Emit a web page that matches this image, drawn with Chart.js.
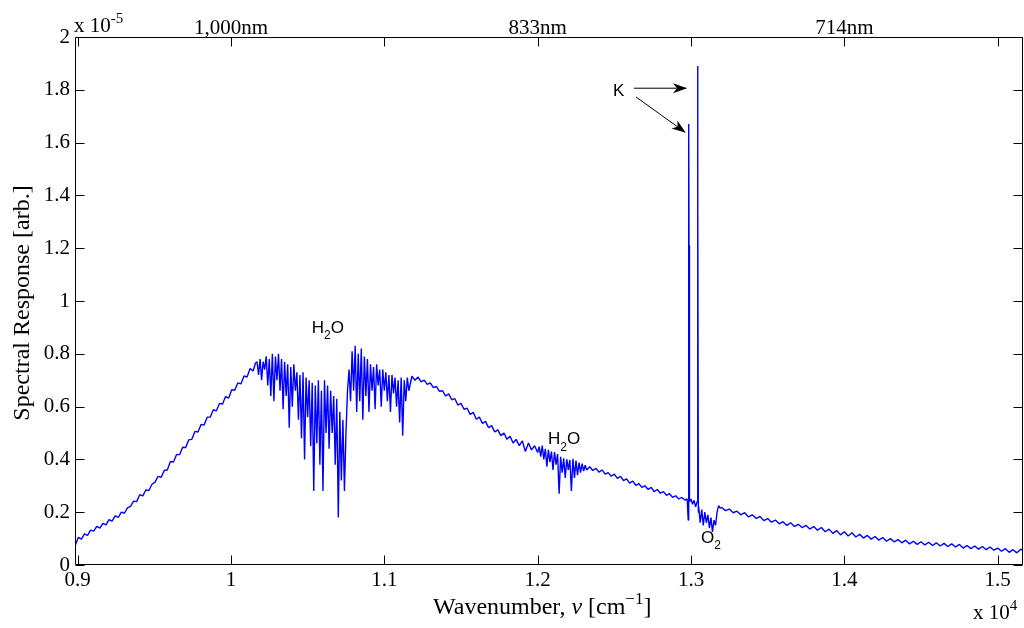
<!DOCTYPE html>
<html>
<head>
<meta charset="utf-8">
<script src="https://cdn.jsdelivr.net/npm/chart.js@4/dist/chart.umd.min.js"></script>
<style>
html,body{margin:0;padding:0;background:#fff;}
#wrap{width:1024px;height:628px;}
</style>
</head>
<body>
<div id="wrap"><canvas id="c" width="1024" height="628"></canvas></div>
<script>
// ---------------- DATA (values in units of 1e-5) ----------------
const wavenumber = [
 8985,9005,9025,9045,9065,9085,9105,9125,9145,9165,9185,9205,9225,9245,9265,9285,9305,9325,9345,9365,
 9385,9405,9425,9445,9465,9485,9505,9525,9545,9565,9585,9605,9625,9645,9665,9685,9705,9725,9745,9765,
 9785,9805,9825,9845,9865,9885,9905,9925,9945,9965,9985,10005,10025,10045,10065,10085,10105,10125,10145,10160,
 10170,10180,10190,10200,10210,10220,10230,10240,10250,10260,10270,10280,10290,10300,10310,10320,10330,10340,10350,10360,
 10370,10380,10390,10400,10410,10420,10430,10440,10450,10460,10470,10480,10490,10500,10510,10520,10530,10540,10550,10560,
 10570,10580,10590,10600,10610,10620,10630,10640,10650,10660,10670,10680,10690,10700,10710,10720,10730,10740,10750,10760,
 10770,10780,10790,10800,10810,10820,10830,10840,10850,10860,10870,10880,10890,10900,10910,10920,10930,10940,10950,10960,
 10970,10980,10990,11000,11010,11020,11030,11040,11050,11060,11070,11080,11090,11100,11110,11120,11130,11140,11150,11160,
 11180,11200,11220,11240,11260,11280,11300,11320,11340,11360,11380,11400,11420,11440,11460,11480,11500,11520,11540,11560,
 11580,11600,11620,11640,11660,11680,11700,11720,11740,11760,11780,11800,11820,11840,11860,11880,11900,11920,11940,11960,
 11980,12000,
 12010,12020,12030,12040,12050,12060,12070,12080,12090,12100,12110,12120,12130,12140,12150,12160,12170,12180,12190,12200,
 12210,12220,12230,12240,12250,12260,12270,12280,12290,12300,12310,12320,
 12340,12360,12380,12400,12420,12440,12460,12480,12500,12520,12540,12560,12580,12600,12620,12640,12660,12680,12700,12720,
 12740,12760,12780,12800,12820,12840,12860,12880,12900,12920,12940,12960,
 12975,12982,12985,12987,12990,13000,13010,13020,13030,13040,13043,13045,13048,
 13050,13060,13070,13080,13090,13100,13110,13120,13130,13140,13150,13160,13170,13180,13190,
 13200,13225,13250,13275,13300,13325,13350,13375,13400,13425,13450,13475,13500,13525,13550,13575,13600,13625,13650,13675,
 13700,13725,13750,13775,13800,13825,13850,13875,13900,13925,13950,13975,14000,14025,14050,14075,14100,14125,14150,14175,
 14200,14225,14250,14275,14300,14325,14350,14375,14400,14425,14450,14475,14500,14525,14550,14575,14600,14625,14650,14675,
 14700,14725,14750,14775,14800,14825,14850,14875,14900,14925,14950,14975,15000,15025,15050,15075,15100,15125,15150,15165
];
const responseE5 = [
 0.075,0.105,0.098,0.118,0.112,0.132,0.128,0.146,0.140,0.158,0.152,0.172,0.166,0.186,0.180,0.200,0.196,0.216,0.222,0.242,
 0.240,0.266,0.262,0.284,0.282,0.306,0.314,0.336,0.332,0.358,0.360,0.392,0.390,0.418,0.418,0.446,0.445,0.474,0.476,0.506,
 0.504,0.532,0.530,0.560,0.560,0.588,0.584,0.612,0.610,0.638,0.632,0.664,0.662,0.690,0.686,0.716,0.712,0.744,0.735,0.765,
 0.77,0.72,0.78,0.70,0.77,0.74,0.79,0.68,0.78,0.64,0.80,0.62,0.79,0.70,0.80,0.66,0.78,0.59,0.77,0.64,
 0.76,0.52,0.75,0.60,0.76,0.66,0.73,0.55,0.72,0.48,0.73,0.40,0.71,0.56,0.70,0.45,0.69,0.28,0.68,0.46,
 0.70,0.38,0.66,0.28,0.70,0.50,0.68,0.44,0.66,0.50,0.64,0.38,0.63,0.18,0.58,0.32,0.55,0.28,0.50,0.66,
 0.74,0.62,0.81,0.66,0.83,0.58,0.80,0.62,0.82,0.55,0.79,0.64,0.78,0.58,0.76,0.66,0.75,0.59,0.76,0.68,
 0.74,0.60,0.74,0.66,0.73,0.62,0.72,0.58,0.72,0.65,0.71,0.60,0.70,0.54,0.71,0.49,0.70,0.62,0.71,0.66,
 0.715,0.700,0.712,0.694,0.700,0.684,0.690,0.672,0.676,0.658,0.660,0.640,0.648,0.626,0.630,0.606,0.612,0.590,0.594,0.570,
 0.578,0.552,0.560,0.536,0.544,0.520,0.528,0.504,0.512,0.490,0.500,0.476,0.488,0.462,0.476,0.452,0.470,0.430,0.462,0.436,
 0.452,0.426,
 0.448,0.410,0.452,0.400,0.440,0.372,0.436,0.390,0.430,0.360,0.428,0.380,0.420,0.270,0.410,0.350,0.404,0.330,0.400,0.360,
 0.398,0.280,0.402,0.330,0.396,0.340,0.388,0.350,0.384,0.356,0.378,0.360,
 0.372,0.358,0.366,0.352,0.360,0.344,0.350,0.336,0.344,0.328,0.336,0.320,0.326,0.310,0.318,0.302,0.308,0.294,0.300,0.286,
 0.294,0.278,0.286,0.272,0.278,0.264,0.270,0.256,0.262,0.250,0.256,0.246,
 0.250,0.170,1.670,1.210,0.240,0.250,0.230,0.245,0.220,0.240,1.890,1.450,0.200,
 0.220,0.160,0.210,0.150,0.200,0.160,0.190,0.140,0.180,0.125,0.170,0.150,0.200,0.225,0.215,
 0.218,0.206,0.212,0.198,0.204,0.190,0.198,0.182,0.190,0.176,0.184,0.168,0.176,0.162,0.170,0.156,0.164,0.150,0.160,0.146,
 0.154,0.142,0.150,0.136,0.146,0.132,0.142,0.126,0.136,0.120,0.130,0.114,0.126,0.110,0.122,0.106,0.116,0.102,0.112,0.098,
 0.108,0.094,0.104,0.090,0.100,0.088,0.096,0.084,0.094,0.080,0.090,0.078,0.088,0.076,0.086,0.074,0.084,0.072,0.082,0.070,
 0.080,0.068,0.078,0.064,0.074,0.062,0.072,0.060,0.070,0.058,0.068,0.056,0.064,0.052,0.062,0.048,0.058,0.046,0.060,0.054
];
const xTickValues = [9000,10000,11000,12000,13000,14000,15000];
const xTickLabels = ['0.9','1','1.1','1.2','1.3','1.4','1.5'];
const topTickLabels = ['','1,000nm','','833nm','','714nm',''];
const yTickValues = [0,0.2,0.4,0.6,0.8,1,1.2,1.4,1.6,1.8,2];
const yTickLabels = ['0','0.2','0.4','0.6','0.8','1','1.2','1.4','1.6','1.8','2'];
const xRange = [8983, 15165];
const yRange = [0, 2];

// annotation texts (anchored in data coordinates)
const labels = [
  {parts:[['H'],['2','sub'],['O']], x:10527, y:0.879},
  {parts:[['H'],['2','sub'],['O']], x:12068, y:0.458},
  {parts:[['O'],['2','sub']], x:13065, y:0.085},
  {parts:[['K']], x:12491, y:1.777}
];
const arrows = [
  {from:[12628,1.806], to:[12974,1.806]},
  {from:[12641,1.773], to:[12966,1.6375]}
];

// ---------------- RENDERING ----------------
const SERIF = '"Liberation Serif", "Times New Roman", serif';
const SANS = '"Liberation Sans", Arial, Helvetica, sans-serif';

function drawRich(ctx, parts, x, y, size, family) {
  let cx = x;
  for (const p of parts) {
    const t = p[0], mode = p[1] || '', italic = mode.includes('it');
    let fs = size, dy = 0;
    if (mode.includes('sub')) { fs = Math.round(size * 0.72); dy = size * 0.38; }
    if (mode.includes('sup')) { fs = Math.round(size * 0.72); dy = -size * 0.42; }
    ctx.font = (italic ? 'italic ' : '') + fs + 'px ' + family;
    ctx.fillText(t, cx, y + dy);
    cx += ctx.measureText(t).width;
  }
  return cx - x;
}
function measureRich(ctx, parts, size, family) {
  let w = 0;
  for (const p of parts) {
    const mode = p[1] || '';
    let fs = (mode.includes('sub') || mode.includes('sup')) ? Math.round(size * 0.72) : size;
    ctx.font = (mode.includes('it') ? 'italic ' : '') + fs + 'px ' + family;
    w += ctx.measureText(p[0]).width;
  }
  return w;
}
function arrowHead(ctx, x1, y1, x2, y2) {
  const ang = Math.atan2(y2 - y1, x2 - x1);
  const L = 14, W = 5, notch = 10;
  ctx.save();
  ctx.translate(x2, y2); ctx.rotate(ang);
  ctx.beginPath();
  ctx.moveTo(0, 0);
  ctx.lineTo(-L, -W);
  ctx.lineTo(-notch, 0);
  ctx.lineTo(-L, W);
  ctx.closePath();
  ctx.fill();
  ctx.restore();
}

const overlay = {
  id: 'overlay',
  afterDraw(chart) {
    const {ctx, chartArea: a, scales} = chart;
    const xs = scales.x, ys = scales.y;
    ctx.save();
    ctx.strokeStyle = '#000'; ctx.fillStyle = '#000'; ctx.lineWidth = 1;
    const L = Math.round(a.left) + 0.5, R = Math.round(a.right) - 0.5;
    const T = Math.round(a.top) + 0.5, B = Math.round(a.bottom) - 0.5;
    ctx.beginPath();
    ctx.rect(L, T, R - L, B - T);
    // inward ticks
    const tl = 9;
    xTickValues.forEach(v => {
      const px = Math.round(xs.getPixelForValue(v)) + 0.5;
      ctx.moveTo(px, B); ctx.lineTo(px, B - tl);
      ctx.moveTo(px, T); ctx.lineTo(px, T + tl);
    });
    yTickValues.forEach(v => {
      const py = Math.round(ys.getPixelForValue(v)) + 0.5;
      ctx.moveTo(L, py); ctx.lineTo(L + tl, py);
      ctx.moveTo(R, py); ctx.lineTo(R - tl, py);
    });
    ctx.stroke();

    // axis titles
    ctx.textBaseline = 'alphabetic';
    ctx.textAlign = 'left';
    const xt = [['Wavenumber, '],['\u03BD','it'],[' [cm'],['\u22121','sup'],[']']];
    const xw = measureRich(ctx, xt, 24, SERIF);
    drawRich(ctx, xt, 433, 614, 24, SERIF);

    ctx.save();
    ctx.translate(29, (a.top + a.bottom) / 2 + 2);
    ctx.rotate(-Math.PI / 2);
    ctx.font = '24px ' + SERIF;
    ctx.textAlign = 'center';
    ctx.fillText('Spectral Response [arb.]', 0, 0);
    ctx.restore();

    // multipliers
    ctx.textAlign = 'left';
    drawRich(ctx, [['x 10'],['-5','sup']], a.left - 1, 32, 21, SERIF);
    drawRich(ctx, [['x 10'],['4','sup']], 973, 619, 21, SERIF);

    // annotations
    labels.forEach(l => {
      drawRich(ctx, l.parts, xs.getPixelForValue(l.x), ys.getPixelForValue(l.y), 17, SANS);
    });
    ctx.lineWidth = 1;
    arrows.forEach(ar => {
      const x1 = xs.getPixelForValue(ar.from[0]), y1 = ys.getPixelForValue(ar.from[1]);
      const x2 = xs.getPixelForValue(ar.to[0]), y2 = ys.getPixelForValue(ar.to[1]);
      ctx.beginPath();
      ctx.moveTo(x1, y1); ctx.lineTo(x2 - (x2 - x1) * 0.02, y2 - (y2 - y1) * 0.02);
      ctx.stroke();
      arrowHead(ctx, x1, y1, x2, y2);
    });
    ctx.restore();
  }
};

const points = wavenumber.map((w, i) => ({x: w, y: responseE5[i]}));
const tickFont = {family: SERIF, size: 21};

new Chart(document.getElementById('c'), {
  type: 'scatter',
  data: {
    datasets: [{
      data: points,
      showLine: true,
      borderColor: '#0000ff',
      backgroundColor: '#0000ff',
      borderWidth: 1.4,
      borderJoinStyle: 'bevel',
      pointRadius: 0,
      pointHoverRadius: 0,
      tension: 0
    }]
  },
  options: {
    responsive: false,
    animation: false,
    devicePixelRatio: 1,
    events: [],
    layout: {padding: 0},
    plugins: {legend: {display: false}, tooltip: {enabled: false}},
    scales: {
      x: {
        type: 'linear', position: 'bottom', min: xRange[0], max: xRange[1],
        grid: {display: false, drawTicks: false}, border: {display: false},
        afterBuildTicks: s => { s.ticks = xTickValues.map(v => ({value: v})); },
        afterFit: s => { s.height = 63; },
        ticks: {color: '#000', font: tickFont, padding: 3, maxRotation: 0, autoSkip: false,
                callback: (v, i) => xTickLabels[i]}
      },
      x2: {
        type: 'linear', position: 'top', min: xRange[0], max: xRange[1],
        grid: {display: false, drawTicks: false}, border: {display: false},
        afterBuildTicks: s => { s.ticks = xTickValues.map(v => ({value: v})); },
        afterFit: s => { s.height = 37; },
        ticks: {color: '#000', font: tickFont, padding: -4, maxRotation: 0, autoSkip: false,
                callback: (v, i) => topTickLabels[i]}
      },
      y: {
        type: 'linear', position: 'left', min: yRange[0], max: yRange[1],
        grid: {display: false, drawTicks: false}, border: {display: false},
        afterBuildTicks: s => { s.ticks = yTickValues.map(v => ({value: v})); },
        afterFit: s => { s.width = 75; },
        ticks: {color: '#000', font: tickFont, padding: 5, autoSkip: false,
                callback: (v, i) => yTickLabels[i]}
      },
      y2: {
        type: 'linear', position: 'right', min: yRange[0], max: yRange[1],
        grid: {display: false, drawTicks: false}, border: {display: false},
        afterFit: s => { s.width = 1; },
        ticks: {display: false}
      }
    }
  },
  plugins: [overlay]
});
</script>
</body>
</html>
